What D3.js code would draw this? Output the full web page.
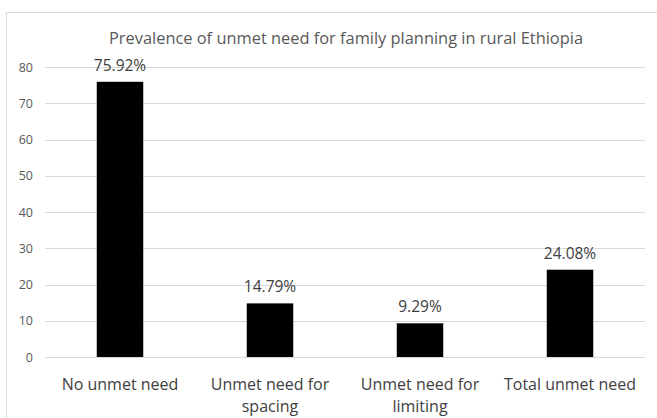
<!DOCTYPE html>
<html>
<head>
<meta charset="utf-8">
<script src="https://cdn.jsdelivr.net/npm/d3@7"></script>
<style>
  body { margin: 0; background: #fff; }
  text { font-family: "Open Sans", "Noto Sans", sans-serif; }
</style>
</head>
<body>
<script>
// data
var categories = ["No unmet need", "Unmet need for spacing", "Unmet need for limiting", "Total unmet need"];
var labelLines = [["No unmet need"], ["Unmet need for", "spacing"], ["Unmet need for", "limiting"], ["Total unmet need"]];
var values = [75.92, 14.79, 9.29, 24.08];
var yTicks = [0, 10, 20, 30, 40, 50, 60, 70, 80];

var w = 657;
var h = 418;
var margin = { top: 67, left: 45, right: 12, bottom: 61 };

var svg = d3.select("body")
  .append("svg")
  .attr("width", w)
  .attr("height", h);

// chart border
svg.append("rect")
  .attr("x", 6.5)
  .attr("y", 12.5)
  .attr("width", w)
  .attr("height", h)
  .attr("fill", "none")
  .attr("stroke", "#d9d9d9");

var x = d3.scaleBand()
  .domain(categories)
  .range([margin.left, w - margin.right])
  .paddingInner(0.69)
  .paddingOuter(0.345);

var y = d3.scaleLinear()
  .domain([0, 80])
  .range([h - margin.bottom, margin.top]);

// gridlines
svg.append("g")
  .selectAll("line")
  .data(yTicks)
  .enter()
  .append("line")
  .attr("x1", margin.left)
  .attr("x2", w - margin.right)
  .attr("y1", function(d) { return Math.round(y(d)) + 0.5; })
  .attr("y2", function(d) { return Math.round(y(d)) + 0.5; })
  .attr("stroke", "#d9d9d9");

// y axis labels
var yAxis = d3.axisLeft(y).tickValues(yTicks).tickSize(0).tickPadding(12);
var gy = svg.append("g")
  .attr("transform", "translate(" + margin.left + ",0)")
  .call(yAxis);
gy.select(".domain").remove();
gy.selectAll("text")
  .attr("fill", "#595959")
  .style("font-size", "12.5px");

// bars
svg.selectAll("rect.bar")
  .data(values)
  .enter()
  .append("rect")
  .attr("class", "bar")
  .attr("x", function(d, i) { return x(categories[i]); })
  .attr("y", function(d) { return y(d); })
  .attr("width", x.bandwidth())
  .attr("height", function(d) { return y(0) - y(d); })
  .attr("fill", "#000");

// value labels
svg.selectAll("text.val")
  .data(values)
  .enter()
  .append("text")
  .attr("class", "val")
  .attr("x", function(d, i) { return x(categories[i]) + x.bandwidth() / 2; })
  .attr("y", function(d) { return y(d) - 11; })
  .attr("text-anchor", "middle")
  .attr("fill", "#404040")
  .style("font-size", "15.5px")
  .text(function(d) { return d.toFixed(2) + "%"; });

// category labels
var cat = svg.selectAll("text.cat")
  .data(categories)
  .enter()
  .append("text")
  .attr("class", "cat")
  .attr("text-anchor", "middle")
  .attr("fill", "#404040")
  .style("font-size", "16px")
  .attr("x", function(d) { return x(d) + x.bandwidth() / 2; })
  .attr("y", h - margin.bottom + 33);

cat.selectAll("tspan")
  .data(function(d, i) { return labelLines[i]; })
  .enter()
  .append("tspan")
  .attr("x", function() { return d3.select(this.parentNode).attr("x"); })
  .attr("dy", function(d, i) { return i === 0 ? 0 : 22; })
  .text(function(d) { return d; });

// title
svg.append("text")
  .attr("x", 346)
  .attr("y", 44)
  .attr("text-anchor", "middle")
  .attr("fill", "#595959")
  .style("font-size", "16.4px")
  .text("Prevalence of unmet need for family planning in rural Ethiopia");
</script>
</body>
</html>
